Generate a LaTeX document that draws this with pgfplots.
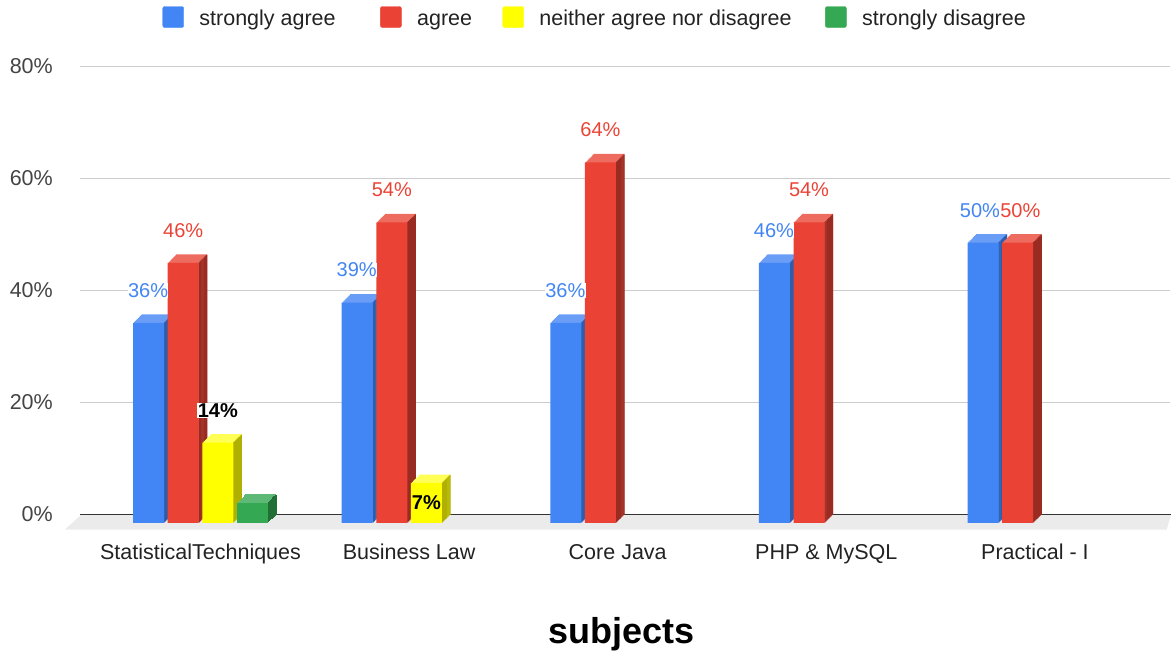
\documentclass[border=0pt]{standalone}
\usepackage{pgfplots}
\pgfplotsset{compat=1.18}
\usepackage{pgfplotstable}
\usepackage{fontspec}
\setmainfont{Liberation Sans}

\definecolor{bF}{HTML}{4285F4}\definecolor{bT}{HTML}{6A9DF6}\definecolor{bD}{HTML}{2E5DAB}
\definecolor{rF}{HTML}{EA4335}\definecolor{rT}{HTML}{EE6B5F}\definecolor{rD}{HTML}{992B22}
\definecolor{yF}{HTML}{FFFF00}\definecolor{yT}{HTML}{FFFF55}\definecolor{yD}{HTML}{B0B000}
\definecolor{gF}{HTML}{34A853}\definecolor{gT}{HTML}{5DB975}\definecolor{gD}{HTML}{226E37}
\definecolor{cCC}{HTML}{CCCCCC}\definecolor{cEB}{HTML}{EBEBEB}
\definecolor{c33}{HTML}{333333}\definecolor{c44}{HTML}{444444}\definecolor{c22}{HTML}{222222}

% strongly agree
\pgfplotstableread{
x y
0 35.7
1 39.3
2 35.7
3 46.4
4 50
}\tblue
\pgfplotstableread{
x y
0 35.7
1 39.3
2 35.7
3 46.4
}\tblueA
\pgfplotstableread{
x y
4 50
}\tblueB
% agree
\pgfplotstableread{
x y
0 46.4
1 53.6
2 64.3
3 53.6
4 50
}\tred
\pgfplotstableread{
x y
0 46.4
1 53.6
2 64.3
3 53.6
}\tredA
\pgfplotstableread{
x y
4 50
}\tredB
% neither agree nor disagree
\pgfplotstableread{
x y
0 14.3
1 7.1
}\tyellow
\pgfplotstableread{
x y
0 14.3
}\tyellowA
\pgfplotstableread{
x y
1 7.1
}\tyellowB
% strongly disagree
\pgfplotstableread{
x y
0 3.6
}\tgreen

% #1 table, #2 bar shift (pt number), #3 top colour, #4 side colour, #5 front colour
\newcommand{\barseries}[5]{%
  \pgfplotsinvokeforeach{9,8,...,1}{%
    \addplot[forget plot, ybar, bar width=31pt, bar shift={(#2+##1*0.9444)*1pt},
      fill=#3, draw=none, yshift={(##1*0.9444-8.5)*1pt}] table[x=x,y=y] {#1};
  }%
  \pgfplotsinvokeforeach{1,...,9}{%
    \addplot[forget plot, ybar, bar width=1.25pt, bar shift={(#2+15.5+(##1-0.5)*0.9444)*1pt},
      fill=#4, draw=none, yshift={((##1-0.5)*0.9444-8.5)*1pt}] table[x=x,y=y] {#1};
  }%
  \addplot[forget plot, ybar, bar width=31pt, bar shift={#2pt}, fill=#5, draw=none,
    yshift=-8.5pt] table[x=x,y=y] {#1};
}
% #1 table, #2 xshift, #3 yshift, #4 extra node style
\newcommand{\barlabels}[4]{%
  \addplot[forget plot, ybar, bar width=31pt, bar shift=0pt, draw=none, fill=none,
    nodes near coords={\pgfmathprintnumber[fixed,precision=0]{\pgfplotspointmeta}\%},
    every node near coord/.append style={anchor=center, xshift=#2, yshift=#3,
      font=\fontsize{20}{24}\selectfont, #4}]
    table[x=x,y=y] {#1};
}

\begin{document}
\begin{tikzpicture}
\begin{axis}[
  at={(80pt,-514.3pt)}, anchor=south west,
  width=1090pt, height=448.3pt, scale only axis,
  xmin=-0.5777, xmax=4.6477, ymin=0, ymax=80,
  clip=false,
  axis line style={draw=none}, tick style={draw=none}, major tick length=0pt,
  ymajorgrids, grid style={line width=1pt, color=cCC},
  ytick={0,20,40,60,80}, yticklabels={0\%,20\%,40\%,60\%,80\%},
  yticklabel style={font=\fontsize{21.5}{25}\selectfont, text=c44, anchor=east, inner sep=0pt, xshift=-27pt},
  xtick={0,1,2,3,4},
  xticklabels={StatisticalTechniques,Business Law,Core Java,PHP \& MySQL,Practical - I},
  xticklabel style={font=\fontsize{21.5}{25}\selectfont, text=c22, anchor=base, inner sep=0pt, yshift=-44.7pt},
  xlabel={subjects},
  xlabel style={font=\bfseries\fontsize{36}{40}\selectfont, text=black, at={(axis description cs:0.4972,-0.2893)}, anchor=base, inner sep=0pt},
  /pgf/number format/assume math mode=true,
  legend columns=4,
  legend style={at={(axis description cs:0.0757,1.1093)}, anchor=west, draw=none, fill=none,
    inner sep=0pt, outer sep=0pt, font=\fontsize{21.5}{25}\selectfont, text=c22,
    nodes={inner sep=0pt},
    /tikz/every odd column/.append style={column sep=15.5pt},
    /tikz/every even column/.append style={column sep=30pt}},
]
% floor and base line
\fill[cEB] ([xshift=-15pt,yshift=-15.2pt]rel axis cs:0,0) -- ([xshift=1.7pt]rel axis cs:0,0)
  -- ([xshift=1pt]rel axis cs:1,0) -- ([xshift=-3.3pt,yshift=-15.2pt]rel axis cs:1,0) -- cycle;
\draw[c33, line width=1.5pt] (rel axis cs:0,0) -- ([xshift=1pt]rel axis cs:1,0);

\barseries{\tblue}{-51.9}{bT}{bD}{bF}
\barseries{\tred}{-17.3}{rT}{rD}{rF}
\barseries{\tyellow}{17.3}{yT}{yD}{yF}
\barseries{\tgreen}{51.9}{gT}{gD}{gF}

% data labels
\barlabels{\tblueA}{-52.4pt}{24pt}{text=bF, fill=white, inner sep=0.3pt}
\barlabels{\tblueB}{-55pt}{24pt}{text=bF, fill=white, inner sep=0pt}
\barlabels{\tredA}{-17.3pt}{24pt}{text=rF, inner sep=0pt}
\barlabels{\tredB}{-14.6pt}{24pt}{text=rF, inner sep=0pt}
\barlabels{\tyellowA}{17.3pt}{24pt}{text=black, font=\bfseries\fontsize{20}{24}\selectfont, fill=white, inner sep=0.3pt}
\barlabels{\tyellowB}{17.3pt}{-28.5pt}{text=black, font=\bfseries\fontsize{20}{24}\selectfont, inner sep=0pt}

% legend
\addlegendimage{legend image code/.code={\fill[bF, rounded corners=2pt] (0pt,-10.5pt) rectangle (21pt,10.5pt);}}
\addlegendentry{\strut\makebox[150.8pt][l]{strongly agree}}
\addlegendimage{legend image code/.code={\fill[rF, rounded corners=2pt] (0pt,-10.5pt) rectangle (21pt,10.5pt);}}
\addlegendentry{\strut\makebox[55.4pt][l]{agree}}
\addlegendimage{legend image code/.code={\fill[yF, rounded corners=2pt] (0pt,-10.5pt) rectangle (21pt,10.5pt);}}
\addlegendentry{\strut\makebox[255.8pt][l]{neither agree nor disagree}}
\addlegendimage{legend image code/.code={\fill[gF, rounded corners=2pt] (0pt,-10.5pt) rectangle (21pt,10.5pt);}}
\addlegendentry{\strut strongly disagree}
\end{axis}
\pgfresetboundingbox
\path[use as bounding box] (0pt,0pt) rectangle (1171pt,-655pt);
\end{tikzpicture}
\end{document}
